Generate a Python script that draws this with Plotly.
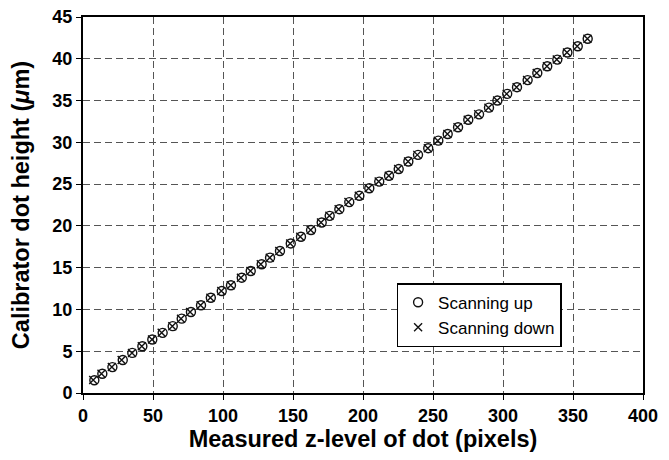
import plotly.graph_objects as go

up_x = [8.1, 13.8, 21.0, 28.4, 35.2, 42.4, 49.5, 56.9, 64.1, 70.5, 77.1, 84.3, 91.3,
        99.1, 105.7, 113.4, 119.8, 127.6, 133.6, 140.7, 148.4, 155.7, 162.9, 170.5,
        176.2, 183.1, 190.2, 197.4, 204.5, 211.6, 218.6, 225.5, 232.4, 239.3, 246.6,
        253.8, 260.5, 267.9, 275.2, 282.9, 290.0, 296.0, 303.0, 310.0, 317.6, 324.5,
        331.6, 338.8, 346.0, 353.4, 360.5]
up_y = [1.53, 2.3, 3.1, 3.95, 4.8, 5.6, 6.4, 7.2, 8.0, 8.9, 9.7, 10.5, 11.4, 12.2,
        12.9, 13.8, 14.6, 15.4, 16.2, 17.0, 17.9, 18.7, 19.5, 20.4, 21.2, 22.0, 22.85,
        23.6, 24.5, 25.3, 26.0, 26.8, 27.7, 28.5, 29.3, 30.2, 31.0, 31.8, 32.7, 33.35,
        34.15, 35.0, 35.8, 36.6, 37.45, 38.3, 39.1, 39.9, 40.75, 41.5, 42.4]

down_x = [7.3, 13.2, 20.6, 27.6, 35.0, 42.0, 49.3, 56.2, 63.8, 70.0, 76.5, 84.0, 91.0,
          98.8, 105.5, 112.8, 119.6, 127.0, 133.4, 140.2, 148.0, 155.2, 162.6, 170.0,
          176.0, 182.6, 189.6, 197.0, 204.0, 211.2, 218.4, 225.1, 232.2, 238.8, 246.3,
          253.4, 260.3, 267.5, 274.8, 282.3, 289.6, 295.8, 302.6, 309.7, 317.2, 324.1,
          331.4, 338.4, 345.7, 353.0, 360.3]
down_y = [1.55, 2.3, 3.1, 3.95, 4.8, 5.6, 6.4, 7.2, 8.0, 8.9, 9.7, 10.5, 11.4, 12.2,
          12.9, 13.8, 14.6, 15.4, 16.2, 17.0, 17.9, 18.7, 19.5, 20.4, 21.2, 22.0, 22.85,
          23.6, 24.5, 25.3, 26.0, 26.8, 27.7, 28.5, 29.3, 30.2, 31.0, 31.8, 32.7, 33.35,
          34.15, 35.0, 35.8, 36.6, 37.45, 38.3, 39.1, 39.9, 40.75, 41.5, 42.4]

x_ticks = [0, 50, 100, 150, 200, 250, 300, 350, 400]
y_ticks = [0, 5, 10, 15, 20, 25, 30, 35, 40, 45]

fig = go.Figure()
fig.add_trace(go.Scatter(
    x=up_x, y=up_y, mode="markers", name="Scanning up",
    marker=dict(symbol="circle-open", size=9, color="#111", line=dict(width=1.4)),
))
fig.add_trace(go.Scatter(
    x=down_x, y=down_y, mode="markers", name="Scanning down",
    marker=dict(symbol="x-thin-open", size=8, color="#111", line=dict(width=1.4)),
))

font_family = "Liberation Sans"
axis_common = dict(
    showline=True, linecolor="black", linewidth=2, mirror=True,
    showgrid=True, gridcolor="#555555", gridwidth=1.2, griddash="7px,4px",
    ticks="outside", ticklen=5, tickwidth=1.2, tickcolor="black",
    zeroline=False, automargin=False, ticklabeloverflow="allow",
    tickfont=dict(family=font_family, size=18, color="black", weight="bold"),
)

fig.update_layout(
    width=661, height=452,
    margin=dict(l=75, r=26, t=9, b=67),
    paper_bgcolor="white", plot_bgcolor="white",
    showlegend=True,
    legend=dict(
        x=0.56, y=0.292, xanchor="left", yanchor="top",
        bgcolor="white", bordercolor="black", borderwidth=1.5,
        font=dict(family=font_family, size=17, color="black"),
        itemwidth=30, tracegroupgap=0,
    ),
    xaxis=dict(
        range=[0, 400], tickvals=x_ticks, ticktext=[str(v) for v in x_ticks],
        title=dict(text="Measured z-level of dot (pixels)", standoff=0,
                   font=dict(family=font_family, size=23.5, color="black", weight="bold")),
        **axis_common,
    ),
    yaxis=dict(
        range=[0, 45], tickvals=y_ticks, ticktext=[str(v) for v in y_ticks],
        title=dict(text="Calibrator dot height (<i>μ</i>m)", standoff=20,
                   font=dict(family=font_family, size=23.5, color="black", weight="bold")),
        **axis_common,
    ),
)

fig.write_html("out.html")
